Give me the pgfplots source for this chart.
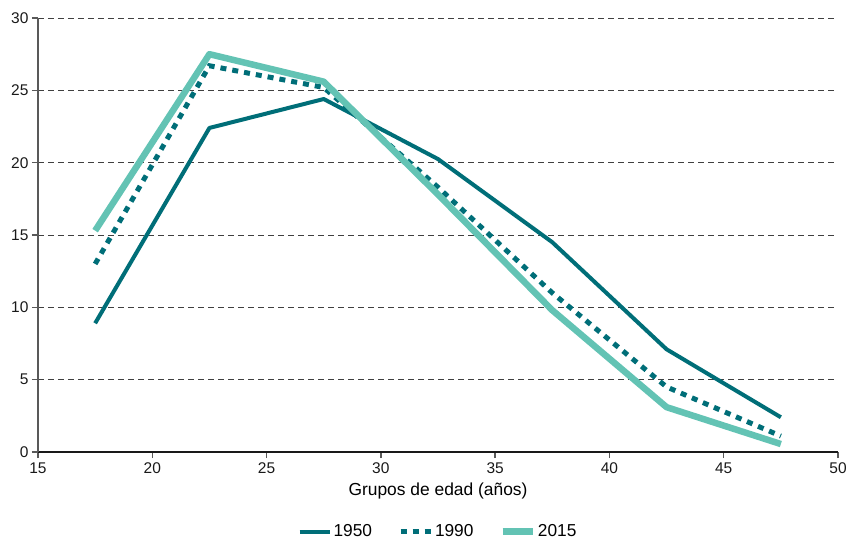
\documentclass[border=0pt]{standalone}
\usepackage{pgfplots}
\pgfplotsset{compat=1.18}
\usepackage{fontspec}
\setmainfont{Liberation Sans}
\definecolor{c50}{HTML}{006E78}
\definecolor{c15}{HTML}{63C3B4}
\definecolor{axg}{HTML}{595959}
\begin{document}
\begin{tikzpicture}
\useasboundingbox (-38pt,-87pt) rectangle (808pt,452pt);
\begin{axis}[
  at={(0pt,0pt)}, anchor=south west,
  scale only axis,
  width=800pt, height=434pt,
  xmin=15, xmax=50, ymin=0, ymax=30,
  xtick={15,20,...,50}, ytick={0,5,...,30},
  axis x line*=bottom, axis y line*=left,
  x axis line style={-, black!90, line width=1.3pt},
  y axis line style={-, axg, line width=1.6pt},
  tick style={axg, line width=1.3pt},
  major tick length=6pt,
  xtick align=outside, ytick align=outside,
  ymajorgrids,
  grid style={black!75, line width=0.9pt, dash pattern=on 6pt off 4pt},
  tick label style={font=\fontsize{15.5}{17}\selectfont, text=black!90},
  xticklabel style={yshift=-1pt},
  /pgf/number format/assume math mode=true,
  xlabel={Grupos de edad (años)},
  xlabel style={font=\fontsize{17.4}{19}\selectfont, yshift=-3pt},
  legend style={at={(0.5,-0.158)}, anchor=north, draw=none, legend columns=3,
    font=\fontsize{17.3}{19}\selectfont,
    /tikz/every even column/.append style={column sep=24pt}},
  legend image code/.code={\draw[#1] (0pt,0pt) -- (30pt,0pt);},
]
\addplot[c50, line width=4pt, line join=round] coordinates {
(17.5,8.9) (22.5,22.4) (27.5,24.4) (32.5,20.25) (37.5,14.5) (42.5,7.1) (47.5,2.4)};
\addlegendentry{1950}
\addplot[c50, line width=5pt, dash pattern=on 6pt off 6pt] coordinates {
(17.5,13.0) (22.5,26.7) (27.5,25.2) (32.5,18.3) (37.5,11.0) (42.5,4.5) (47.5,1.1)};
\addlegendentry{1990}
\addplot[c15, line width=6.5pt, line join=round] coordinates {
(17.5,15.3) (22.5,27.5) (27.5,25.6) (32.5,17.8) (37.5,9.8) (42.5,3.1) (47.5,0.55)};
\addlegendentry{2015}
\end{axis}
\end{tikzpicture}
\end{document}
